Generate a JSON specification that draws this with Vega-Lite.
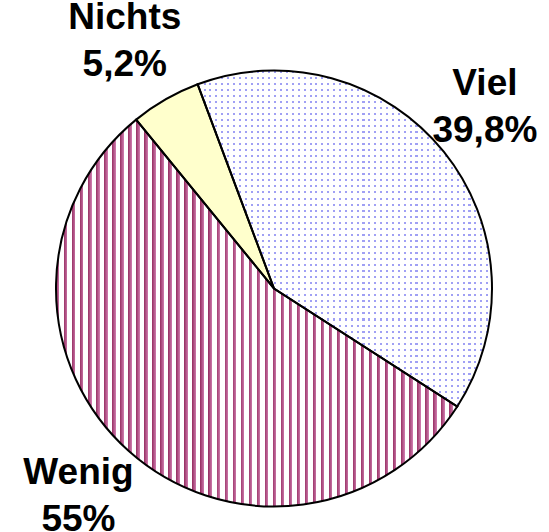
{
  "$schema": "https://vega.github.io/schema/vega-lite/v6.json",
  "autosize": "none",
  "width": 548,
  "height": 487,
  "padding": {"top": 45, "left": 0, "right": 1, "bottom": 0},
  "background": "white",
  "config": {"view": {"stroke": null}},
  "data": {
    "values": [
      {"cat": "Viel", "value": 39.8, "label": "Viel\n39,8%"},
      {"cat": "Wenig", "value": 55.0, "label": "Wenig\n55%"},
      {"cat": "Nichts", "value": 5.2, "label": "Nichts\n5,2%"}
    ]
  },
  "encoding": {
    "theta": {"field": "value", "type": "quantitative", "stack": true, "scale": {"domain": [0, 100], "range": [-0.3578, 5.9254]}}
  },
  "layer": [
    {
      "mark": {"type": "arc", "outerRadius": 218, "strokeWidth": 0},
      "encoding": {
        "fill": {
          "condition": [
            {"test": "datum.cat === 'Nichts'", "value": "#ffffcc"},
            {"test": "datum.cat === 'Wenig'", "value": {
              "gradient": "linear", "x1": 0, "x2": 1, "y1": 0, "y2": 0,
              "stops": [
{"offset":0,"color":"#936"},{"offset":0.0085,"color":"#c7a"},{"offset":0.0085,"color":"#fff"},{"offset":0.02,"color":"#fff"},
{"offset":0.02,"color":"#936"},{"offset":0.0285,"color":"#c7a"},{"offset":0.0285,"color":"#fff"},{"offset":0.04,"color":"#fff"},
{"offset":0.04,"color":"#936"},{"offset":0.0485,"color":"#c7a"},{"offset":0.0485,"color":"#fff"},{"offset":0.06,"color":"#fff"},
{"offset":0.06,"color":"#936"},{"offset":0.0685,"color":"#c7a"},{"offset":0.0685,"color":"#fff"},{"offset":0.08,"color":"#fff"},
{"offset":0.08,"color":"#936"},{"offset":0.0885,"color":"#c7a"},{"offset":0.0885,"color":"#fff"},{"offset":0.1,"color":"#fff"},
{"offset":0.1,"color":"#936"},{"offset":0.1085,"color":"#c7a"},{"offset":0.1085,"color":"#fff"},{"offset":0.12,"color":"#fff"},
{"offset":0.12,"color":"#936"},{"offset":0.1285,"color":"#c7a"},{"offset":0.1285,"color":"#fff"},{"offset":0.14,"color":"#fff"},
{"offset":0.14,"color":"#936"},{"offset":0.1485,"color":"#c7a"},{"offset":0.1485,"color":"#fff"},{"offset":0.16,"color":"#fff"},
{"offset":0.16,"color":"#936"},{"offset":0.1685,"color":"#c7a"},{"offset":0.1685,"color":"#fff"},{"offset":0.18,"color":"#fff"},
{"offset":0.18,"color":"#936"},{"offset":0.1885,"color":"#c7a"},{"offset":0.1885,"color":"#fff"},{"offset":0.2,"color":"#fff"},
{"offset":0.2,"color":"#936"},{"offset":0.2085,"color":"#c7a"},{"offset":0.2085,"color":"#fff"},{"offset":0.22,"color":"#fff"},
{"offset":0.22,"color":"#936"},{"offset":0.2285,"color":"#c7a"},{"offset":0.2285,"color":"#fff"},{"offset":0.24,"color":"#fff"},
{"offset":0.24,"color":"#936"},{"offset":0.2485,"color":"#c7a"},{"offset":0.2485,"color":"#fff"},{"offset":0.26,"color":"#fff"},
{"offset":0.26,"color":"#936"},{"offset":0.2685,"color":"#c7a"},{"offset":0.2685,"color":"#fff"},{"offset":0.28,"color":"#fff"},
{"offset":0.28,"color":"#936"},{"offset":0.2885,"color":"#c7a"},{"offset":0.2885,"color":"#fff"},{"offset":0.3,"color":"#fff"},
{"offset":0.3,"color":"#936"},{"offset":0.3085,"color":"#c7a"},{"offset":0.3085,"color":"#fff"},{"offset":0.32,"color":"#fff"},
{"offset":0.32,"color":"#936"},{"offset":0.3285,"color":"#c7a"},{"offset":0.3285,"color":"#fff"},{"offset":0.34,"color":"#fff"},
{"offset":0.34,"color":"#936"},{"offset":0.3485,"color":"#c7a"},{"offset":0.3485,"color":"#fff"},{"offset":0.36,"color":"#fff"},
{"offset":0.36,"color":"#936"},{"offset":0.3685,"color":"#c7a"},{"offset":0.3685,"color":"#fff"},{"offset":0.38,"color":"#fff"},
{"offset":0.38,"color":"#936"},{"offset":0.3885,"color":"#c7a"},{"offset":0.3885,"color":"#fff"},{"offset":0.4,"color":"#fff"},
{"offset":0.4,"color":"#936"},{"offset":0.4085,"color":"#c7a"},{"offset":0.4085,"color":"#fff"},{"offset":0.42,"color":"#fff"},
{"offset":0.42,"color":"#936"},{"offset":0.4285,"color":"#c7a"},{"offset":0.4285,"color":"#fff"},{"offset":0.44,"color":"#fff"},
{"offset":0.44,"color":"#936"},{"offset":0.4485,"color":"#c7a"},{"offset":0.4485,"color":"#fff"},{"offset":0.46,"color":"#fff"},
{"offset":0.46,"color":"#936"},{"offset":0.4685,"color":"#c7a"},{"offset":0.4685,"color":"#fff"},{"offset":0.48,"color":"#fff"},
{"offset":0.48,"color":"#936"},{"offset":0.4885,"color":"#c7a"},{"offset":0.4885,"color":"#fff"},{"offset":0.5,"color":"#fff"},
{"offset":0.5,"color":"#936"},{"offset":0.5085,"color":"#c7a"},{"offset":0.5085,"color":"#fff"},{"offset":0.52,"color":"#fff"},
{"offset":0.52,"color":"#936"},{"offset":0.5285,"color":"#c7a"},{"offset":0.5285,"color":"#fff"},{"offset":0.54,"color":"#fff"},
{"offset":0.54,"color":"#936"},{"offset":0.5485,"color":"#c7a"},{"offset":0.5485,"color":"#fff"},{"offset":0.56,"color":"#fff"},
{"offset":0.56,"color":"#936"},{"offset":0.5685,"color":"#c7a"},{"offset":0.5685,"color":"#fff"},{"offset":0.58,"color":"#fff"},
{"offset":0.58,"color":"#936"},{"offset":0.5885,"color":"#c7a"},{"offset":0.5885,"color":"#fff"},{"offset":0.6,"color":"#fff"},
{"offset":0.6,"color":"#936"},{"offset":0.6085,"color":"#c7a"},{"offset":0.6085,"color":"#fff"},{"offset":0.62,"color":"#fff"},
{"offset":0.62,"color":"#936"},{"offset":0.6285,"color":"#c7a"},{"offset":0.6285,"color":"#fff"},{"offset":0.64,"color":"#fff"},
{"offset":0.64,"color":"#936"},{"offset":0.6485,"color":"#c7a"},{"offset":0.6485,"color":"#fff"},{"offset":0.66,"color":"#fff"},
{"offset":0.66,"color":"#936"},{"offset":0.6685,"color":"#c7a"},{"offset":0.6685,"color":"#fff"},{"offset":0.68,"color":"#fff"},
{"offset":0.68,"color":"#936"},{"offset":0.6885,"color":"#c7a"},{"offset":0.6885,"color":"#fff"},{"offset":0.7,"color":"#fff"},
{"offset":0.7,"color":"#936"},{"offset":0.7085,"color":"#c7a"},{"offset":0.7085,"color":"#fff"},{"offset":0.72,"color":"#fff"},
{"offset":0.72,"color":"#936"},{"offset":0.7285,"color":"#c7a"},{"offset":0.7285,"color":"#fff"},{"offset":0.74,"color":"#fff"},
{"offset":0.74,"color":"#936"},{"offset":0.7485,"color":"#c7a"},{"offset":0.7485,"color":"#fff"},{"offset":0.76,"color":"#fff"},
{"offset":0.76,"color":"#936"},{"offset":0.7685,"color":"#c7a"},{"offset":0.7685,"color":"#fff"},{"offset":0.78,"color":"#fff"},
{"offset":0.78,"color":"#936"},{"offset":0.7885,"color":"#c7a"},{"offset":0.7885,"color":"#fff"},{"offset":0.8,"color":"#fff"},
{"offset":0.8,"color":"#936"},{"offset":0.8085,"color":"#c7a"},{"offset":0.8085,"color":"#fff"},{"offset":0.82,"color":"#fff"},
{"offset":0.82,"color":"#936"},{"offset":0.8285,"color":"#c7a"},{"offset":0.8285,"color":"#fff"},{"offset":0.84,"color":"#fff"},
{"offset":0.84,"color":"#936"},{"offset":0.8485,"color":"#c7a"},{"offset":0.8485,"color":"#fff"},{"offset":0.86,"color":"#fff"},
{"offset":0.86,"color":"#936"},{"offset":0.8685,"color":"#c7a"},{"offset":0.8685,"color":"#fff"},{"offset":0.88,"color":"#fff"},
{"offset":0.88,"color":"#936"},{"offset":0.8885,"color":"#c7a"},{"offset":0.8885,"color":"#fff"},{"offset":0.9,"color":"#fff"},
{"offset":0.9,"color":"#936"},{"offset":0.9085,"color":"#c7a"},{"offset":0.9085,"color":"#fff"},{"offset":0.92,"color":"#fff"},
{"offset":0.92,"color":"#936"},{"offset":0.9285,"color":"#c7a"},{"offset":0.9285,"color":"#fff"},{"offset":0.94,"color":"#fff"},
{"offset":0.94,"color":"#936"},{"offset":0.9485,"color":"#c7a"},{"offset":0.9485,"color":"#fff"},{"offset":0.96,"color":"#fff"},
{"offset":0.96,"color":"#936"},{"offset":0.9685,"color":"#c7a"},{"offset":0.9685,"color":"#fff"},{"offset":0.98,"color":"#fff"},
{"offset":0.98,"color":"#936"},{"offset":0.9885,"color":"#c7a"},{"offset":0.9885,"color":"#fff"},{"offset":1,"color":"#fff"}
              ]
            }}
          ],
          "value": {
            "gradient": "linear", "x1": 0, "x2": 1, "y1": 0, "y2": 0,
            "stops": [
{"offset":0,"color":"#a0a0f4"},{"offset":0.007,"color":"#a0a0f4"},{"offset":0.007,"color":"#fff"},{"offset":0.02,"color":"#fff"},
{"offset":0.02,"color":"#a0a0f4"},{"offset":0.027,"color":"#a0a0f4"},{"offset":0.027,"color":"#fff"},{"offset":0.04,"color":"#fff"},
{"offset":0.04,"color":"#a0a0f4"},{"offset":0.047,"color":"#a0a0f4"},{"offset":0.047,"color":"#fff"},{"offset":0.06,"color":"#fff"},
{"offset":0.06,"color":"#a0a0f4"},{"offset":0.067,"color":"#a0a0f4"},{"offset":0.067,"color":"#fff"},{"offset":0.08,"color":"#fff"},
{"offset":0.08,"color":"#a0a0f4"},{"offset":0.087,"color":"#a0a0f4"},{"offset":0.087,"color":"#fff"},{"offset":0.1,"color":"#fff"},
{"offset":0.1,"color":"#a0a0f4"},{"offset":0.107,"color":"#a0a0f4"},{"offset":0.107,"color":"#fff"},{"offset":0.12,"color":"#fff"},
{"offset":0.12,"color":"#a0a0f4"},{"offset":0.127,"color":"#a0a0f4"},{"offset":0.127,"color":"#fff"},{"offset":0.14,"color":"#fff"},
{"offset":0.14,"color":"#a0a0f4"},{"offset":0.147,"color":"#a0a0f4"},{"offset":0.147,"color":"#fff"},{"offset":0.16,"color":"#fff"},
{"offset":0.16,"color":"#a0a0f4"},{"offset":0.167,"color":"#a0a0f4"},{"offset":0.167,"color":"#fff"},{"offset":0.18,"color":"#fff"},
{"offset":0.18,"color":"#a0a0f4"},{"offset":0.187,"color":"#a0a0f4"},{"offset":0.187,"color":"#fff"},{"offset":0.2,"color":"#fff"},
{"offset":0.2,"color":"#a0a0f4"},{"offset":0.207,"color":"#a0a0f4"},{"offset":0.207,"color":"#fff"},{"offset":0.22,"color":"#fff"},
{"offset":0.22,"color":"#a0a0f4"},{"offset":0.227,"color":"#a0a0f4"},{"offset":0.227,"color":"#fff"},{"offset":0.24,"color":"#fff"},
{"offset":0.24,"color":"#a0a0f4"},{"offset":0.247,"color":"#a0a0f4"},{"offset":0.247,"color":"#fff"},{"offset":0.26,"color":"#fff"},
{"offset":0.26,"color":"#a0a0f4"},{"offset":0.267,"color":"#a0a0f4"},{"offset":0.267,"color":"#fff"},{"offset":0.28,"color":"#fff"},
{"offset":0.28,"color":"#a0a0f4"},{"offset":0.287,"color":"#a0a0f4"},{"offset":0.287,"color":"#fff"},{"offset":0.3,"color":"#fff"},
{"offset":0.3,"color":"#a0a0f4"},{"offset":0.307,"color":"#a0a0f4"},{"offset":0.307,"color":"#fff"},{"offset":0.32,"color":"#fff"},
{"offset":0.32,"color":"#a0a0f4"},{"offset":0.327,"color":"#a0a0f4"},{"offset":0.327,"color":"#fff"},{"offset":0.34,"color":"#fff"},
{"offset":0.34,"color":"#a0a0f4"},{"offset":0.347,"color":"#a0a0f4"},{"offset":0.347,"color":"#fff"},{"offset":0.36,"color":"#fff"},
{"offset":0.36,"color":"#a0a0f4"},{"offset":0.367,"color":"#a0a0f4"},{"offset":0.367,"color":"#fff"},{"offset":0.38,"color":"#fff"},
{"offset":0.38,"color":"#a0a0f4"},{"offset":0.387,"color":"#a0a0f4"},{"offset":0.387,"color":"#fff"},{"offset":0.4,"color":"#fff"},
{"offset":0.4,"color":"#a0a0f4"},{"offset":0.407,"color":"#a0a0f4"},{"offset":0.407,"color":"#fff"},{"offset":0.42,"color":"#fff"},
{"offset":0.42,"color":"#a0a0f4"},{"offset":0.427,"color":"#a0a0f4"},{"offset":0.427,"color":"#fff"},{"offset":0.44,"color":"#fff"},
{"offset":0.44,"color":"#a0a0f4"},{"offset":0.447,"color":"#a0a0f4"},{"offset":0.447,"color":"#fff"},{"offset":0.46,"color":"#fff"},
{"offset":0.46,"color":"#a0a0f4"},{"offset":0.467,"color":"#a0a0f4"},{"offset":0.467,"color":"#fff"},{"offset":0.48,"color":"#fff"},
{"offset":0.48,"color":"#a0a0f4"},{"offset":0.487,"color":"#a0a0f4"},{"offset":0.487,"color":"#fff"},{"offset":0.5,"color":"#fff"},
{"offset":0.5,"color":"#a0a0f4"},{"offset":0.507,"color":"#a0a0f4"},{"offset":0.507,"color":"#fff"},{"offset":0.52,"color":"#fff"},
{"offset":0.52,"color":"#a0a0f4"},{"offset":0.527,"color":"#a0a0f4"},{"offset":0.527,"color":"#fff"},{"offset":0.54,"color":"#fff"},
{"offset":0.54,"color":"#a0a0f4"},{"offset":0.547,"color":"#a0a0f4"},{"offset":0.547,"color":"#fff"},{"offset":0.56,"color":"#fff"},
{"offset":0.56,"color":"#a0a0f4"},{"offset":0.567,"color":"#a0a0f4"},{"offset":0.567,"color":"#fff"},{"offset":0.58,"color":"#fff"},
{"offset":0.58,"color":"#a0a0f4"},{"offset":0.587,"color":"#a0a0f4"},{"offset":0.587,"color":"#fff"},{"offset":0.6,"color":"#fff"},
{"offset":0.6,"color":"#a0a0f4"},{"offset":0.607,"color":"#a0a0f4"},{"offset":0.607,"color":"#fff"},{"offset":0.62,"color":"#fff"},
{"offset":0.62,"color":"#a0a0f4"},{"offset":0.627,"color":"#a0a0f4"},{"offset":0.627,"color":"#fff"},{"offset":0.64,"color":"#fff"},
{"offset":0.64,"color":"#a0a0f4"},{"offset":0.647,"color":"#a0a0f4"},{"offset":0.647,"color":"#fff"},{"offset":0.66,"color":"#fff"},
{"offset":0.66,"color":"#a0a0f4"},{"offset":0.667,"color":"#a0a0f4"},{"offset":0.667,"color":"#fff"},{"offset":0.68,"color":"#fff"},
{"offset":0.68,"color":"#a0a0f4"},{"offset":0.687,"color":"#a0a0f4"},{"offset":0.687,"color":"#fff"},{"offset":0.7,"color":"#fff"},
{"offset":0.7,"color":"#a0a0f4"},{"offset":0.707,"color":"#a0a0f4"},{"offset":0.707,"color":"#fff"},{"offset":0.72,"color":"#fff"},
{"offset":0.72,"color":"#a0a0f4"},{"offset":0.727,"color":"#a0a0f4"},{"offset":0.727,"color":"#fff"},{"offset":0.74,"color":"#fff"},
{"offset":0.74,"color":"#a0a0f4"},{"offset":0.747,"color":"#a0a0f4"},{"offset":0.747,"color":"#fff"},{"offset":0.76,"color":"#fff"},
{"offset":0.76,"color":"#a0a0f4"},{"offset":0.767,"color":"#a0a0f4"},{"offset":0.767,"color":"#fff"},{"offset":0.78,"color":"#fff"},
{"offset":0.78,"color":"#a0a0f4"},{"offset":0.787,"color":"#a0a0f4"},{"offset":0.787,"color":"#fff"},{"offset":0.8,"color":"#fff"},
{"offset":0.8,"color":"#a0a0f4"},{"offset":0.807,"color":"#a0a0f4"},{"offset":0.807,"color":"#fff"},{"offset":0.82,"color":"#fff"},
{"offset":0.82,"color":"#a0a0f4"},{"offset":0.827,"color":"#a0a0f4"},{"offset":0.827,"color":"#fff"},{"offset":0.84,"color":"#fff"},
{"offset":0.84,"color":"#a0a0f4"},{"offset":0.847,"color":"#a0a0f4"},{"offset":0.847,"color":"#fff"},{"offset":0.86,"color":"#fff"},
{"offset":0.86,"color":"#a0a0f4"},{"offset":0.867,"color":"#a0a0f4"},{"offset":0.867,"color":"#fff"},{"offset":0.88,"color":"#fff"},
{"offset":0.88,"color":"#a0a0f4"},{"offset":0.887,"color":"#a0a0f4"},{"offset":0.887,"color":"#fff"},{"offset":0.9,"color":"#fff"},
{"offset":0.9,"color":"#a0a0f4"},{"offset":0.907,"color":"#a0a0f4"},{"offset":0.907,"color":"#fff"},{"offset":0.92,"color":"#fff"},
{"offset":0.92,"color":"#a0a0f4"},{"offset":0.927,"color":"#a0a0f4"},{"offset":0.927,"color":"#fff"},{"offset":0.94,"color":"#fff"},
{"offset":0.94,"color":"#a0a0f4"},{"offset":0.947,"color":"#a0a0f4"},{"offset":0.947,"color":"#fff"},{"offset":0.96,"color":"#fff"},
{"offset":0.96,"color":"#a0a0f4"},{"offset":0.967,"color":"#a0a0f4"},{"offset":0.967,"color":"#fff"},{"offset":0.98,"color":"#fff"},
{"offset":0.98,"color":"#a0a0f4"},{"offset":0.987,"color":"#a0a0f4"},{"offset":0.987,"color":"#fff"},{"offset":1,"color":"#fff"}
            ]
          }
        }
      }
    },
    {
      "mark": {"type": "arc", "outerRadius": 218, "strokeWidth": 0},
      "encoding": {
        "fill": {
          "condition": {"test": "datum.cat === 'Viel'", "value": {
            "gradient": "linear", "x1": 0, "x2": 0, "y1": 0, "y2": 1,
            "stops": [
{"offset":0,"color":"rgba(255,255,255,0)"},{"offset":0.006,"color":"rgba(255,255,255,0)"},{"offset":0.006,"color":"#fff"},{"offset":0.018,"color":"#fff"},
{"offset":0.018,"color":"rgba(255,255,255,0)"},{"offset":0.024,"color":"rgba(255,255,255,0)"},{"offset":0.024,"color":"#fff"},{"offset":0.036,"color":"#fff"},
{"offset":0.036,"color":"rgba(255,255,255,0)"},{"offset":0.042,"color":"rgba(255,255,255,0)"},{"offset":0.042,"color":"#fff"},{"offset":0.054,"color":"#fff"},
{"offset":0.054,"color":"rgba(255,255,255,0)"},{"offset":0.06,"color":"rgba(255,255,255,0)"},{"offset":0.06,"color":"#fff"},{"offset":0.072,"color":"#fff"},
{"offset":0.072,"color":"rgba(255,255,255,0)"},{"offset":0.078,"color":"rgba(255,255,255,0)"},{"offset":0.078,"color":"#fff"},{"offset":0.09,"color":"#fff"},
{"offset":0.09,"color":"rgba(255,255,255,0)"},{"offset":0.096,"color":"rgba(255,255,255,0)"},{"offset":0.096,"color":"#fff"},{"offset":0.108,"color":"#fff"},
{"offset":0.108,"color":"rgba(255,255,255,0)"},{"offset":0.114,"color":"rgba(255,255,255,0)"},{"offset":0.114,"color":"#fff"},{"offset":0.126,"color":"#fff"},
{"offset":0.126,"color":"rgba(255,255,255,0)"},{"offset":0.132,"color":"rgba(255,255,255,0)"},{"offset":0.132,"color":"#fff"},{"offset":0.144,"color":"#fff"},
{"offset":0.144,"color":"rgba(255,255,255,0)"},{"offset":0.15,"color":"rgba(255,255,255,0)"},{"offset":0.15,"color":"#fff"},{"offset":0.162,"color":"#fff"},
{"offset":0.162,"color":"rgba(255,255,255,0)"},{"offset":0.168,"color":"rgba(255,255,255,0)"},{"offset":0.168,"color":"#fff"},{"offset":0.18,"color":"#fff"},
{"offset":0.18,"color":"rgba(255,255,255,0)"},{"offset":0.186,"color":"rgba(255,255,255,0)"},{"offset":0.186,"color":"#fff"},{"offset":0.198,"color":"#fff"},
{"offset":0.198,"color":"rgba(255,255,255,0)"},{"offset":0.204,"color":"rgba(255,255,255,0)"},{"offset":0.204,"color":"#fff"},{"offset":0.216,"color":"#fff"},
{"offset":0.216,"color":"rgba(255,255,255,0)"},{"offset":0.222,"color":"rgba(255,255,255,0)"},{"offset":0.222,"color":"#fff"},{"offset":0.234,"color":"#fff"},
{"offset":0.234,"color":"rgba(255,255,255,0)"},{"offset":0.24,"color":"rgba(255,255,255,0)"},{"offset":0.24,"color":"#fff"},{"offset":0.252,"color":"#fff"},
{"offset":0.252,"color":"rgba(255,255,255,0)"},{"offset":0.258,"color":"rgba(255,255,255,0)"},{"offset":0.258,"color":"#fff"},{"offset":0.27,"color":"#fff"},
{"offset":0.27,"color":"rgba(255,255,255,0)"},{"offset":0.276,"color":"rgba(255,255,255,0)"},{"offset":0.276,"color":"#fff"},{"offset":0.288,"color":"#fff"},
{"offset":0.288,"color":"rgba(255,255,255,0)"},{"offset":0.294,"color":"rgba(255,255,255,0)"},{"offset":0.294,"color":"#fff"},{"offset":0.306,"color":"#fff"},
{"offset":0.306,"color":"rgba(255,255,255,0)"},{"offset":0.312,"color":"rgba(255,255,255,0)"},{"offset":0.312,"color":"#fff"},{"offset":0.324,"color":"#fff"},
{"offset":0.324,"color":"rgba(255,255,255,0)"},{"offset":0.33,"color":"rgba(255,255,255,0)"},{"offset":0.33,"color":"#fff"},{"offset":0.342,"color":"#fff"},
{"offset":0.342,"color":"rgba(255,255,255,0)"},{"offset":0.348,"color":"rgba(255,255,255,0)"},{"offset":0.348,"color":"#fff"},{"offset":0.36,"color":"#fff"},
{"offset":0.36,"color":"rgba(255,255,255,0)"},{"offset":0.366,"color":"rgba(255,255,255,0)"},{"offset":0.366,"color":"#fff"},{"offset":0.378,"color":"#fff"},
{"offset":0.378,"color":"rgba(255,255,255,0)"},{"offset":0.384,"color":"rgba(255,255,255,0)"},{"offset":0.384,"color":"#fff"},{"offset":0.396,"color":"#fff"},
{"offset":0.396,"color":"rgba(255,255,255,0)"},{"offset":0.402,"color":"rgba(255,255,255,0)"},{"offset":0.402,"color":"#fff"},{"offset":0.414,"color":"#fff"},
{"offset":0.414,"color":"rgba(255,255,255,0)"},{"offset":0.42,"color":"rgba(255,255,255,0)"},{"offset":0.42,"color":"#fff"},{"offset":0.432,"color":"#fff"},
{"offset":0.432,"color":"rgba(255,255,255,0)"},{"offset":0.438,"color":"rgba(255,255,255,0)"},{"offset":0.438,"color":"#fff"},{"offset":0.45,"color":"#fff"},
{"offset":0.45,"color":"rgba(255,255,255,0)"},{"offset":0.456,"color":"rgba(255,255,255,0)"},{"offset":0.456,"color":"#fff"},{"offset":0.468,"color":"#fff"},
{"offset":0.468,"color":"rgba(255,255,255,0)"},{"offset":0.474,"color":"rgba(255,255,255,0)"},{"offset":0.474,"color":"#fff"},{"offset":0.486,"color":"#fff"},
{"offset":0.486,"color":"rgba(255,255,255,0)"},{"offset":0.492,"color":"rgba(255,255,255,0)"},{"offset":0.492,"color":"#fff"},{"offset":0.504,"color":"#fff"},
{"offset":0.504,"color":"rgba(255,255,255,0)"},{"offset":0.51,"color":"rgba(255,255,255,0)"},{"offset":0.51,"color":"#fff"},{"offset":0.522,"color":"#fff"},
{"offset":0.522,"color":"rgba(255,255,255,0)"},{"offset":0.528,"color":"rgba(255,255,255,0)"},{"offset":0.528,"color":"#fff"},{"offset":0.54,"color":"#fff"},
{"offset":0.54,"color":"rgba(255,255,255,0)"},{"offset":0.546,"color":"rgba(255,255,255,0)"},{"offset":0.546,"color":"#fff"},{"offset":0.558,"color":"#fff"},
{"offset":0.558,"color":"rgba(255,255,255,0)"},{"offset":0.564,"color":"rgba(255,255,255,0)"},{"offset":0.564,"color":"#fff"},{"offset":0.576,"color":"#fff"},
{"offset":0.576,"color":"rgba(255,255,255,0)"},{"offset":0.582,"color":"rgba(255,255,255,0)"},{"offset":0.582,"color":"#fff"},{"offset":0.594,"color":"#fff"},
{"offset":0.594,"color":"rgba(255,255,255,0)"},{"offset":0.6,"color":"rgba(255,255,255,0)"},{"offset":0.6,"color":"#fff"},{"offset":0.612,"color":"#fff"},
{"offset":0.612,"color":"rgba(255,255,255,0)"},{"offset":0.618,"color":"rgba(255,255,255,0)"},{"offset":0.618,"color":"#fff"},{"offset":0.63,"color":"#fff"},
{"offset":0.63,"color":"rgba(255,255,255,0)"},{"offset":0.636,"color":"rgba(255,255,255,0)"},{"offset":0.636,"color":"#fff"},{"offset":0.648,"color":"#fff"},
{"offset":0.648,"color":"rgba(255,255,255,0)"},{"offset":0.654,"color":"rgba(255,255,255,0)"},{"offset":0.654,"color":"#fff"},{"offset":0.666,"color":"#fff"},
{"offset":0.666,"color":"rgba(255,255,255,0)"},{"offset":0.672,"color":"rgba(255,255,255,0)"},{"offset":0.672,"color":"#fff"},{"offset":0.684,"color":"#fff"},
{"offset":0.684,"color":"rgba(255,255,255,0)"},{"offset":0.69,"color":"rgba(255,255,255,0)"},{"offset":0.69,"color":"#fff"},{"offset":0.702,"color":"#fff"},
{"offset":0.702,"color":"rgba(255,255,255,0)"},{"offset":0.708,"color":"rgba(255,255,255,0)"},{"offset":0.708,"color":"#fff"},{"offset":0.72,"color":"#fff"},
{"offset":0.72,"color":"rgba(255,255,255,0)"},{"offset":0.726,"color":"rgba(255,255,255,0)"},{"offset":0.726,"color":"#fff"},{"offset":0.738,"color":"#fff"},
{"offset":0.738,"color":"rgba(255,255,255,0)"},{"offset":0.744,"color":"rgba(255,255,255,0)"},{"offset":0.744,"color":"#fff"},{"offset":0.756,"color":"#fff"},
{"offset":0.756,"color":"rgba(255,255,255,0)"},{"offset":0.762,"color":"rgba(255,255,255,0)"},{"offset":0.762,"color":"#fff"},{"offset":0.774,"color":"#fff"},
{"offset":0.774,"color":"rgba(255,255,255,0)"},{"offset":0.78,"color":"rgba(255,255,255,0)"},{"offset":0.78,"color":"#fff"},{"offset":0.792,"color":"#fff"},
{"offset":0.792,"color":"rgba(255,255,255,0)"},{"offset":0.798,"color":"rgba(255,255,255,0)"},{"offset":0.798,"color":"#fff"},{"offset":0.81,"color":"#fff"},
{"offset":0.81,"color":"rgba(255,255,255,0)"},{"offset":0.816,"color":"rgba(255,255,255,0)"},{"offset":0.816,"color":"#fff"},{"offset":0.828,"color":"#fff"},
{"offset":0.828,"color":"rgba(255,255,255,0)"},{"offset":0.834,"color":"rgba(255,255,255,0)"},{"offset":0.834,"color":"#fff"},{"offset":0.846,"color":"#fff"},
{"offset":0.846,"color":"rgba(255,255,255,0)"},{"offset":0.852,"color":"rgba(255,255,255,0)"},{"offset":0.852,"color":"#fff"},{"offset":0.864,"color":"#fff"},
{"offset":0.864,"color":"rgba(255,255,255,0)"},{"offset":0.87,"color":"rgba(255,255,255,0)"},{"offset":0.87,"color":"#fff"},{"offset":0.882,"color":"#fff"},
{"offset":0.882,"color":"rgba(255,255,255,0)"},{"offset":0.888,"color":"rgba(255,255,255,0)"},{"offset":0.888,"color":"#fff"},{"offset":0.9,"color":"#fff"},
{"offset":0.9,"color":"rgba(255,255,255,0)"},{"offset":0.906,"color":"rgba(255,255,255,0)"},{"offset":0.906,"color":"#fff"},{"offset":0.918,"color":"#fff"},
{"offset":0.918,"color":"rgba(255,255,255,0)"},{"offset":0.924,"color":"rgba(255,255,255,0)"},{"offset":0.924,"color":"#fff"},{"offset":0.936,"color":"#fff"},
{"offset":0.936,"color":"rgba(255,255,255,0)"},{"offset":0.942,"color":"rgba(255,255,255,0)"},{"offset":0.942,"color":"#fff"},{"offset":0.954,"color":"#fff"},
{"offset":0.954,"color":"rgba(255,255,255,0)"},{"offset":0.96,"color":"rgba(255,255,255,0)"},{"offset":0.96,"color":"#fff"},{"offset":0.972,"color":"#fff"},
{"offset":0.972,"color":"rgba(255,255,255,0)"},{"offset":0.978,"color":"rgba(255,255,255,0)"},{"offset":0.978,"color":"#fff"},{"offset":0.99,"color":"#fff"},
{"offset":0.99,"color":"rgba(255,255,255,0)"},{"offset":0.996,"color":"rgba(255,255,255,0)"},{"offset":0.996,"color":"#fff"},{"offset":1,"color":"#fff"}
            ]
          }},
          "value": "transparent"
        }
      }
    },
    {
      "mark": {"type": "arc", "outerRadius": 218, "fill": "white", "fillOpacity": 0, "stroke": "black", "strokeWidth": 2}
    },
    {
      "mark": {"type": "text", "radius": 282, "thetaOffset": -0.3294, "dx": -8.2, "dy": -26.7, "fontSize": 37, "fontWeight": "bold", "font": "Liberation Sans", "lineBreak": "\n", "lineHeight": 47, "color": "black", "baseline": "middle", "align": "center"},
      "encoding": {
        "text": {"field": "label", "type": "nominal"}
      }
    }
  ]
}
